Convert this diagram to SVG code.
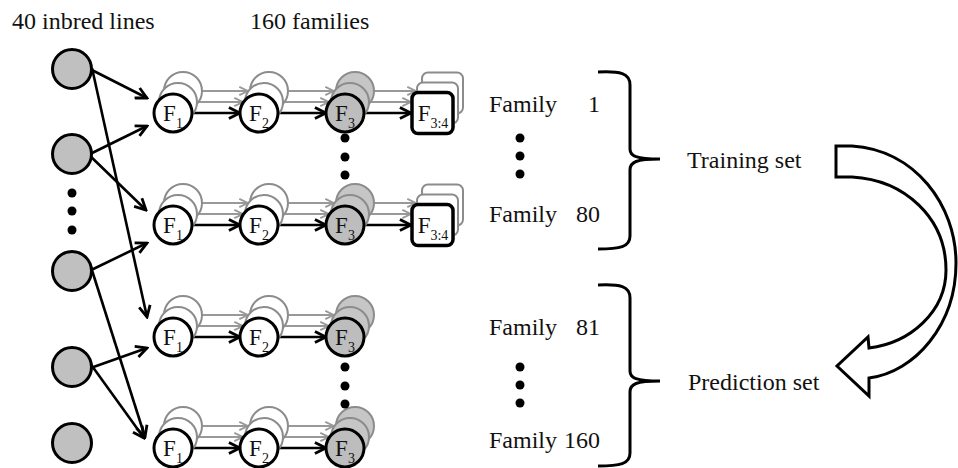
<svg xmlns="http://www.w3.org/2000/svg" width="958" height="468" viewBox="0 0 958 468">
<style>
text{font-family:"Liberation Serif","Times New Roman",Times,serif;fill:#111}
.lbl{font-size:24px}
.f{font-size:23px}
.sub{font-size:14px}
.par{fill:#c0c0c0;stroke:#000;stroke-width:3}
.fw{fill:#fff;stroke:#000;stroke-width:3}
.fg{fill:#bdbdbd;stroke:#000;stroke-width:3}
.bw{fill:#fff;stroke:#8c8c8c;stroke-width:2}
.bg{fill:#c6c6c6;stroke:#8c8c8c;stroke-width:2}
.box{fill:#fff;stroke:#000;stroke-width:3.5}
.bbox{fill:#fff;stroke:#8c8c8c;stroke-width:2}
.ca{stroke:#000;stroke-width:2.6;fill:none;marker-end:url(#ah)}
.ga{stroke:#999;stroke-width:2.2;fill:none;marker-end:url(#gh)}
.dot{fill:#000}
.brace{fill:none;stroke:#000;stroke-width:3}
</style>
<defs>
<marker id="ah" viewBox="0 0 12 12" refX="10.5" refY="6" markerWidth="14" markerHeight="14" markerUnits="userSpaceOnUse" orient="auto">
<path d="M1,1.2 L10.5,6 L1,10.8" fill="none" stroke="#000" stroke-width="2.4"/>
</marker>
<marker id="gh" viewBox="0 0 12 12" refX="10.5" refY="6" markerWidth="11" markerHeight="11" markerUnits="userSpaceOnUse" orient="auto">
<path d="M1,1.5 L10.5,6 L1,10.5" fill="none" stroke="#999" stroke-width="2"/>
</marker>
<g id="fwhite"><circle cx="10" cy="-22" r="19" class="bw"/><circle cx="5" cy="-11" r="19" class="bw"/><circle cx="0" cy="0" r="19" class="fw"/></g>
<g id="fgrey"><circle cx="10" cy="-22" r="19" class="bg"/><circle cx="5" cy="-11" r="19" class="bg"/><circle cx="0" cy="0" r="19" class="fg"/></g>
<g id="fbox"><rect x="-10.5" y="-40.5" width="41" height="41" rx="6" class="bbox"/><rect x="-15.5" y="-30.5" width="41" height="41" rx="6" class="bbox"/><rect x="-20.5" y="-20.5" width="41" height="41" rx="6" class="box"/></g>
<g id="rowlines">
<line x1="178" y1="-11" x2="243" y2="-11" class="ga"/>
<line x1="183" y1="-22" x2="248" y2="-22" class="ga"/>
<line x1="264" y1="-11" x2="329" y2="-11" class="ga"/>
<line x1="269" y1="-22" x2="334" y2="-22" class="ga"/>
<line x1="173" y1="0" x2="240" y2="0" class="ca"/>
<line x1="259" y1="0" x2="326" y2="0" class="ca"/>
</g>
<g id="boxlines">
<line x1="350" y1="-11" x2="411" y2="-11" class="ga"/>
<line x1="355" y1="-22" x2="416" y2="-22" class="ga"/>
<line x1="345" y1="0" x2="411" y2="0" class="ca"/>
</g>
</defs>

<g id="connectors">
<use href="#rowlines" y="113"/>
<use href="#boxlines" y="113"/>
<use href="#rowlines" y="225"/>
<use href="#boxlines" y="225"/>
<use href="#rowlines" y="337"/>
<use href="#rowlines" y="448"/>
<line x1="82" y1="65" x2="147" y2="98" class="ca"/>
<line x1="92" y1="68" x2="147" y2="317" class="ca"/>
<line x1="84" y1="157" x2="147" y2="126" class="ca"/>
<line x1="86" y1="152" x2="146" y2="210" class="ca"/>
<line x1="85" y1="273" x2="147" y2="243" class="ca"/>
<line x1="90" y1="264" x2="145" y2="437" class="ca"/>
<line x1="85" y1="370" x2="147" y2="348" class="ca"/>
<line x1="87" y1="359" x2="144" y2="438" class="ca"/>
</g>

<g id="parents">
<circle id="p1" cx="72" cy="69" r="19.5" class="par"/>
<circle id="p2" cx="72" cy="154" r="19.5" class="par"/>
<circle id="p3" cx="72" cy="271" r="19.5" class="par"/>
<circle id="p4" cx="72" cy="367" r="19.5" class="par"/>
<circle id="p5" cx="72" cy="443" r="19.5" class="par"/>
<circle cx="72" cy="193" r="4.5" class="dot"/>
<circle cx="72" cy="211" r="4.5" class="dot"/>
<circle cx="72" cy="230" r="4.5" class="dot"/>
</g>

<g id="r1f1"><use href="#fwhite" x="173" y="113"/><text x="173" y="121" class="f" text-anchor="middle">F<tspan class="sub" dy="7">1</tspan></text></g>
<g id="r1f2"><use href="#fwhite" x="259" y="113"/><text x="259" y="121" class="f" text-anchor="middle">F<tspan class="sub" dy="7">2</tspan></text></g>
<g id="r1f3"><use href="#fgrey" x="345" y="113"/><text x="345" y="121" class="f" text-anchor="middle">F<tspan class="sub" dy="7">3</tspan></text></g>
<g id="r1f34"><use href="#fbox" x="432.5" y="113"/><text x="433" y="121" class="f" text-anchor="middle">F<tspan class="sub" dy="7">3:4</tspan></text></g>

<g id="r2f1"><use href="#fwhite" x="173" y="225"/><text x="173" y="233" class="f" text-anchor="middle">F<tspan class="sub" dy="7">1</tspan></text></g>
<g id="r2f2"><use href="#fwhite" x="259" y="225"/><text x="259" y="233" class="f" text-anchor="middle">F<tspan class="sub" dy="7">2</tspan></text></g>
<g id="r2f3"><use href="#fgrey" x="345" y="225"/><text x="345" y="233" class="f" text-anchor="middle">F<tspan class="sub" dy="7">3</tspan></text></g>
<g id="r2f34"><use href="#fbox" x="432.5" y="225"/><text x="433" y="233" class="f" text-anchor="middle">F<tspan class="sub" dy="7">3:4</tspan></text></g>

<g id="r3f1"><use href="#fwhite" x="173" y="337"/><text x="173" y="345" class="f" text-anchor="middle">F<tspan class="sub" dy="7">1</tspan></text></g>
<g id="r3f2"><use href="#fwhite" x="259" y="337"/><text x="259" y="345" class="f" text-anchor="middle">F<tspan class="sub" dy="7">2</tspan></text></g>
<g id="r3f3"><use href="#fgrey" x="345" y="337"/><text x="345" y="345" class="f" text-anchor="middle">F<tspan class="sub" dy="7">3</tspan></text></g>

<g id="r4f1"><use href="#fwhite" x="173" y="448"/><text x="173" y="456" class="f" text-anchor="middle">F<tspan class="sub" dy="7">1</tspan></text></g>
<g id="r4f2"><use href="#fwhite" x="259" y="448"/><text x="259" y="456" class="f" text-anchor="middle">F<tspan class="sub" dy="7">2</tspan></text></g>
<g id="r4f3"><use href="#fgrey" x="345" y="448"/><text x="345" y="456" class="f" text-anchor="middle">F<tspan class="sub" dy="7">3</tspan></text></g>

<g id="dots">
<circle cx="345" cy="138" r="4.5" class="dot"/>
<circle cx="345" cy="157" r="4.5" class="dot"/>
<circle cx="345" cy="175" r="4.5" class="dot"/>
<circle cx="345" cy="367" r="4.5" class="dot"/>
<circle cx="345" cy="386" r="4.5" class="dot"/>
<circle cx="345" cy="404" r="4.5" class="dot"/>
<circle cx="520" cy="138" r="4.5" class="dot"/>
<circle cx="520" cy="156" r="4.5" class="dot"/>
<circle cx="520" cy="174" r="4.5" class="dot"/>
<circle cx="520" cy="367" r="4.5" class="dot"/>
<circle cx="520" cy="385" r="4.5" class="dot"/>
<circle cx="520" cy="403" r="4.5" class="dot"/>
</g>

<g id="headers">
<text x="12" y="29" class="lbl">40 inbred lines</text>
<text x="250" y="29" class="lbl">160 families</text>
</g>

<g id="families">
<text x="489" y="112" class="lbl">Family</text><text x="600" y="112" class="lbl" text-anchor="end">1</text>
<text x="489" y="222" class="lbl">Family</text><text x="600" y="222" class="lbl" text-anchor="end">80</text>
<text x="489" y="335" class="lbl">Family</text><text x="600" y="335" class="lbl" text-anchor="end">81</text>
<text x="489" y="448" class="lbl">Family</text><text x="600" y="448" class="lbl" text-anchor="end">160</text>
</g>

<g id="training">
<path class="brace" d="M598,72 C620,71 630,73 630,85 L630,149 C630,156 636,159 660,159 C636,159 630,162 630,170 L630,236 C630,247 620,249 598,249"/>
<text x="687" y="168" class="lbl">Training set</text>
</g>

<g id="prediction">
<path class="brace" d="M598,285 C620,284 630,286 630,298 L630,371 C630,378 636,381 660,381 C636,381 630,384 630,392 L630,453 C630,464 620,466 598,466"/>
<text x="688" y="390" class="lbl">Prediction set</text>
</g>

<g id="bigarrow">
<path d="M836,146 L852,146 C915,150 956,205 956,263 C956,325 915,372 869,378 L869,396 L837,366 L868,337 L869,348 C910,343 946,312 946,270 C946,218 905,180 852,177 L836,177 Z" fill="#fff" stroke="#000" stroke-width="3" stroke-linejoin="miter"/>
</g>
</svg>
